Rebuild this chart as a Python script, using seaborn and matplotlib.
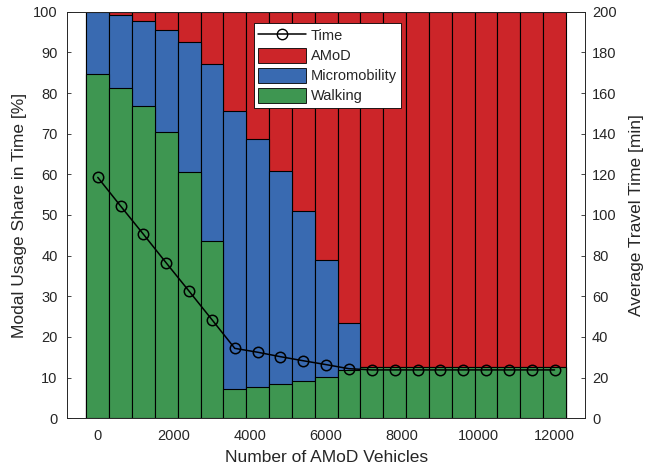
import numpy as np
import pandas as pd
import matplotlib
matplotlib.use('Agg')
import matplotlib.pyplot as plt
import seaborn as sns
from matplotlib.patches import Patch
from matplotlib.lines import Line2D

vehicles = [0, 600, 1200, 1800, 2400, 3000, 3600, 4200, 4800, 5400, 6000,
            6600, 7200, 7800, 8400, 9000, 9600, 10200, 10800, 11400, 12000]
walking = [84.6, 81.3, 76.8, 70.4, 60.5, 43.6, 7.2, 7.6, 8.4, 9.2, 10.2,
           11.9, 12.7, 12.7, 12.7, 12.7, 12.7, 12.7, 12.7, 12.7, 12.7]
micromobility = [15.4, 17.8, 20.8, 25.2, 32.0, 43.5, 68.3, 61.2, 52.3, 41.9,
                 28.8, 11.6, 0, 0, 0, 0, 0, 0, 0, 0, 0]
amod = [0.0, 0.9, 2.4, 4.4, 7.5, 12.9, 24.5, 31.2, 39.3, 48.9, 61.0,
        76.5, 87.3, 87.3, 87.3, 87.3, 87.3, 87.3, 87.3, 87.3, 87.3]
travel_time = [118.5, 104.4, 90.5, 76.4, 62.5, 48.5, 34.4, 32.5, 30.3, 28.3,
               26.4, 24.4, 23.8, 23.8, 23.8, 23.8, 23.8, 23.8, 23.8, 23.8, 23.8]

c_amod = '#CC2529'
c_micro = '#396AB1'
c_walk = '#3E9651'
axis_col = '#262626'

sns.set_style('ticks')
plt.rcParams['font.family'] = ['Liberation Sans', 'DejaVu Sans']

df = pd.DataFrame({'vehicles': vehicles,
                   'walk': walking,
                   'micro': micromobility,
                   'amod': amod,
                   'time': travel_time})
df['walk_micro'] = df['walk'] + df['micro']
df['total'] = df['walk_micro'] + df['amod']

fig = plt.figure(figsize=(6.62, 4.68), dpi=100)
ax = fig.add_axes([0.1017, 0.1062, 0.7820, 0.8688])

# stacked bars drawn as overlapping cumulative totals
for col, color in [('total', c_amod), ('walk_micro', c_micro), ('walk', c_walk)]:
    sns.barplot(data=df, x='vehicles', y=col, native_scale=True, width=1,
                color=color, edgecolor='black', linewidth=0.8,
                saturation=1, errorbar=None, ax=ax)

ax.set_xlim(-800, 12800)
ax.set_ylim(0, 100)
ax.set_xticks(np.arange(0, 12001, 2000))
ax.set_xticklabels([str(v) for v in range(0, 12001, 2000)])
ax.set_yticks(np.arange(0, 101, 10))
ax.set_xlabel('Number of AMoD Vehicles', fontsize=12.5, color=axis_col,
              labelpad=5)
ax.set_ylabel('Modal Usage Share in Time [%]', fontsize=12.5, color=axis_col,
              labelpad=4)
ax.tick_params(direction='in', length=3, labelsize=10.5, colors=axis_col,
               top=True, width=0.6)
ax.tick_params(axis='x', pad=8)
ax.tick_params(axis='y', right=False, pad=7)

ax2 = ax.twinx()
sns.lineplot(data=df, x='vehicles', y='time', color='black', linewidth=1.1,
             marker='o', markersize=7.5, markerfacecolor='none',
             markeredgecolor='black', markeredgewidth=1.1, ax=ax2)
ax2.set_ylim(0, 200)
ax2.set_yticks(np.arange(0, 201, 20))
ax2.set_ylabel('Average Travel Time [min]', fontsize=12.5, color=axis_col,
               labelpad=9)
ax2.tick_params(direction='in', length=3, labelsize=10.5, colors=axis_col,
                width=0.6, pad=5)
ax2.set_xlim(-800, 12800)

for a in (ax, ax2):
    for s in a.spines.values():
        s.set_color(axis_col)
        s.set_linewidth(0.6)

handles = [Line2D([], [], color='black', marker='o', markerfacecolor='none',
                  markersize=7.5, linewidth=1.1),
           Patch(facecolor=c_amod, edgecolor='black', linewidth=0.6),
           Patch(facecolor=c_micro, edgecolor='black', linewidth=0.6),
           Patch(facecolor=c_walk, edgecolor='black', linewidth=0.6)]
leg = ax2.legend(handles, ['Time', 'AMoD', 'Micromobility', 'Walking'],
                 loc='upper left', bbox_to_anchor=(0.36, 0.971),
                 fontsize=10.5, frameon=True, fancybox=False, framealpha=1,
                 edgecolor='black', borderpad=0.3, labelspacing=0.32,
                 handlelength=3.3, handleheight=1.2, handletextpad=0.3,
                 borderaxespad=0)
leg.get_frame().set_linewidth(0.6)

fig.savefig('out.png', dpi=100)
